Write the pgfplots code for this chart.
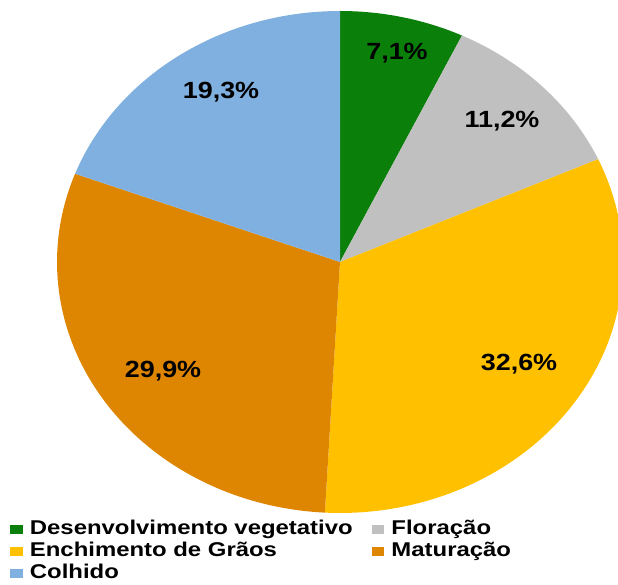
\documentclass[border=0pt]{standalone}
\usepackage{pgfplots}
\pgfplotsset{compat=1.18}
\usepackage{fontspec}
\setmainfont{Liberation Sans}
\newfontfamily\lblfont{Liberation Sans}[FakeStretch=1.15]
\newfontfamily\legfont{Liberation Sans}[FakeStretch=1.2]
\definecolor{cDes}{HTML}{0A7F0A}
\definecolor{cFlo}{HTML}{C0C0C0}
\definecolor{cEnc}{HTML}{FFC000}
\definecolor{cMat}{HTML}{DE8602}
\definecolor{cCol}{HTML}{7FB0DF}
% values (percent)
\def\vA{7.1}
\def\vB{11.2}
\def\vC{32.6}
\def\vD{29.9}
\def\vE{19.3}
\pgfmathsetmacro{\tot}{\vA+\vB+\vC+\vD+\vE}
\pgfmathsetmacro{\k}{3.6*100/\tot}
\pgfmathsetmacro{\aA}{90}
\pgfmathsetmacro{\aB}{90-\k*(\vA)}
\pgfmathsetmacro{\aC}{90-\k*(\vA+\vB)}
\pgfmathsetmacro{\aD}{90-\k*(\vA+\vB+\vC)}
\pgfmathsetmacro{\aE}{90-\k*(\vA+\vB+\vC+\vD)}
\pgfmathsetmacro{\aF}{90-360}
\def\cx{340}
\def\cy{317}
\def\rx{283}
\def\ry{251}
\begin{document}
\begin{tikzpicture}
\begin{axis}[
  width=618bp, height=579bp, scale only axis,
  xmin=0, xmax=618, ymin=0, ymax=579,
  hide axis,
  legend columns=2,
  legend cell align=left,
  legend image code/.code={\fill[#1] (0bp,-4.6bp) rectangle (12.7bp,4.6bp);},
  legend style={draw=none, fill=none, at={(axis cs:10,61)}, anchor=north west,
    inner sep=0pt, row sep=0pt,
    font=\legfont\bfseries\fontsize{20}{22}\selectfont,
    nodes={inner xsep=0pt, inner ysep=2bp, text height=14bp, text depth=4bp},
    /tikz/every odd column/.append style={column sep=7bp},
    /tikz/every even column/.append style={column sep=19bp}},
]
\addplot[fill=cDes, draw=none, domain=\aB:\aA, samples=40] ({\cx+\rx*cos(x)},{\cy+\ry*sin(x)}) -- (\cx,\cy) -- cycle;
\addlegendentry{Desenvolvimento vegetativo}
\addplot[fill=cFlo, draw=none, domain=\aC:\aB, samples=40] ({\cx+\rx*cos(x)},{\cy+\ry*sin(x)}) -- (\cx,\cy) -- cycle;
\addlegendentry{Floração}
\addplot[fill=cEnc, draw=none, domain=\aD:\aC, samples=80] ({\cx+\rx*cos(x)},{\cy+\ry*sin(x)}) -- (\cx,\cy) -- cycle;
\addlegendentry{Enchimento de Grãos}
\addplot[fill=cMat, draw=none, domain=\aE:\aD, samples=80] ({\cx+\rx*cos(x)},{\cy+\ry*sin(x)}) -- (\cx,\cy) -- cycle;
\addlegendentry{Maturação}
\addplot[fill=cCol, draw=none, domain=\aF:\aE, samples=60] ({\cx+\rx*cos(x)},{\cy+\ry*sin(x)}) -- (\cx,\cy) -- cycle;
\addlegendentry{Colhido}
\path (rel axis cs:0,0) rectangle (rel axis cs:1,1);
\begin{scope}[every node/.style={anchor=base, inner sep=0pt, font=\lblfont\bfseries\fontsize{23.5}{26}\selectfont}]
\node at (axis cs:397,519) {7,1\%};
\node at (axis cs:502,451) {11,2\%};
\node at (axis cs:519,208) {32,6\%};
\node at (axis cs:163,201) {29,9\%};
\node at (axis cs:221,480) {19,3\%};
\end{scope}
\end{axis}
\end{tikzpicture}
\end{document}
